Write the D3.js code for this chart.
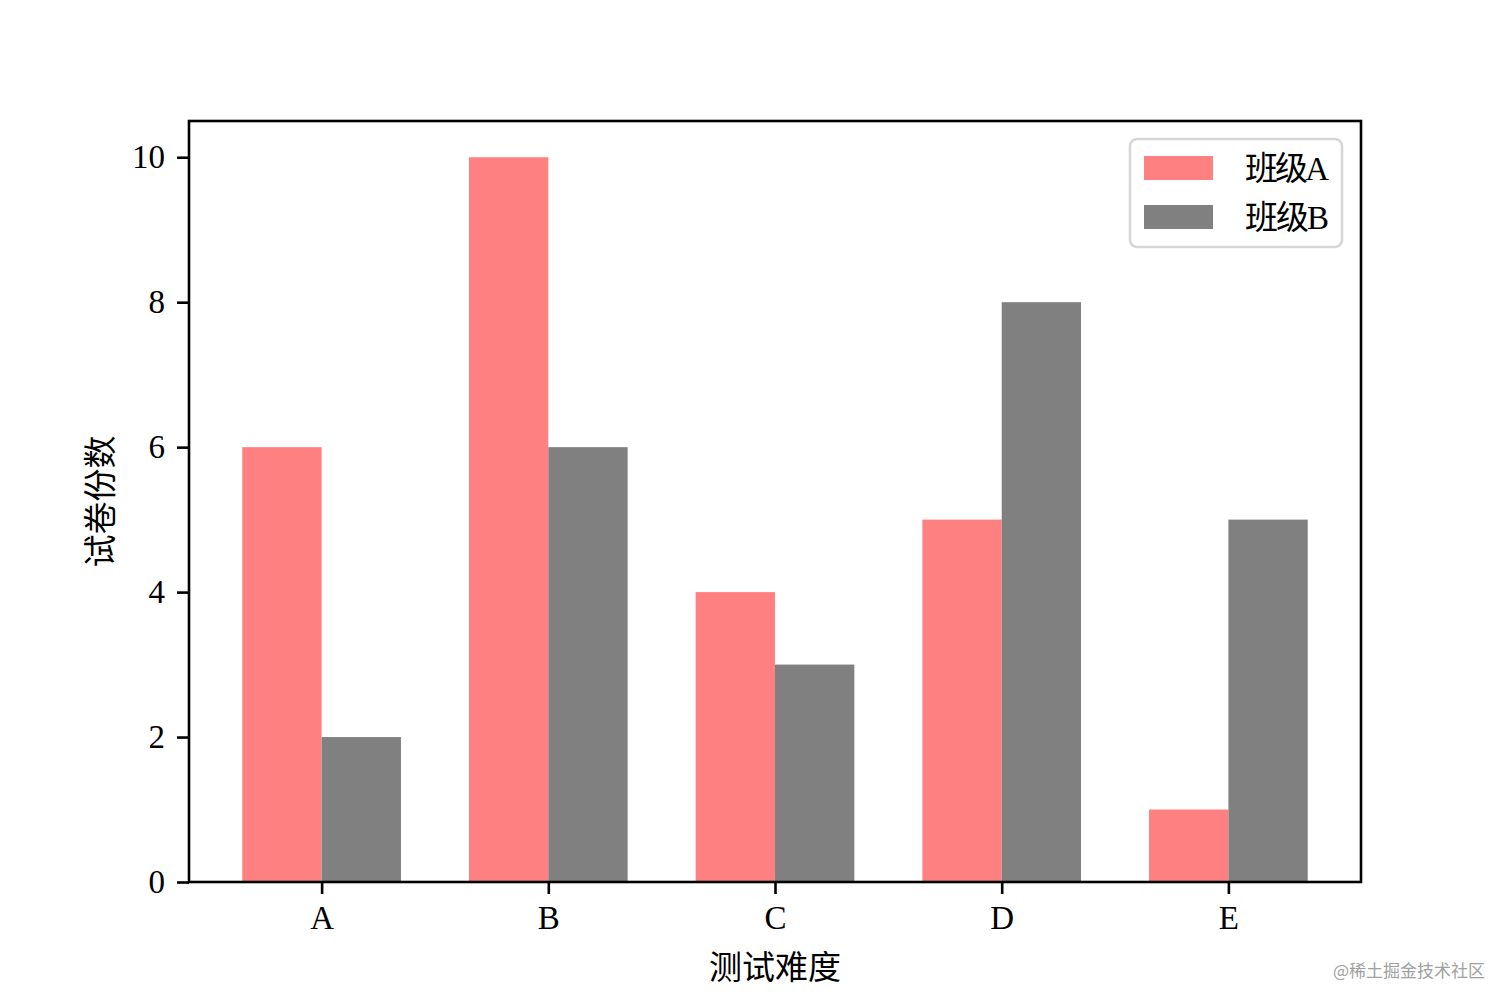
<!DOCTYPE html>
<html>
<head>
<meta charset="utf-8">
<script src="https://cdn.jsdelivr.net/npm/d3@7"></script>
<style>
  body { margin: 0; background: #fff; }
  svg text { font-family: "Liberation Serif", "Noto Sans CJK SC", serif; }
</style>
</head>
<body>
<div id="chart"></div>
<script>
var categories = ['A', 'B', 'C', 'D', 'E'];
var classA = [6, 10, 4, 5, 1];
var classB = [2, 6, 3, 8, 5];
var seriesNames = ['班级A', '班级B'];
var seriesColors = ['#ff8080', '#808080'];
var yTicks = [0, 2, 4, 6, 8, 10];

var width = 1512, height = 1008,
    plotL = 189, plotR = 1361, plotT = 121, plotB = 882,
    barW = 0.35;

var svg = d3.select('#chart').append('svg')
    .attr('width', width).attr('height', height);

var x = d3.scaleLinear().domain([-0.585, 4.585]).range([plotL, plotR]);
var y = d3.scaleLinear().domain([0, 10.5]).range([plotB, plotT]);

var series = [classA, classB];
series.forEach(function (vals, s) {
    svg.append('g').selectAll('rect')
        .data(vals)
        .enter().append('rect')
        .attr('x', function (d, i) { return x(i + (s === 0 ? -barW : 0)); })
        .attr('width', x(barW) - x(0))
        .attr('y', function (d) { return y(d); })
        .attr('height', function (d) { return y(0) - y(d); })
        .attr('fill', seriesColors[s]);
});

// axes
var xAxis = svg.append('g')
    .attr('transform', 'translate(0,' + plotB + ')')
    .call(d3.axisBottom(x).tickValues(d3.range(categories.length))
        .tickFormat(function (d) { return categories[d]; })
        .tickSize(12).tickPadding(12));
var yAxis = svg.append('g')
    .attr('transform', 'translate(' + plotL + ',0)')
    .call(d3.axisLeft(y).tickValues(yTicks).tickSize(12).tickPadding(12));

[xAxis, yAxis].forEach(function (g) {
    g.select('.domain').remove();
    g.selectAll('line').attr('stroke', '#000').attr('stroke-width', 2.6);
    g.selectAll('text').attr('fill', '#000')
        .style('font-size', '33px')
        .style('font-family', '"Liberation Serif", serif');
});

// frame
svg.append('rect')
    .attr('x', plotL).attr('y', plotT)
    .attr('width', plotR - plotL).attr('height', plotB - plotT)
    .attr('fill', 'none').attr('stroke', '#000').attr('stroke-width', 2.6);

// axis titles
svg.append('text')
    .attr('x', (plotL + plotR) / 2).attr('y', 979)
    .attr('text-anchor', 'middle')
    .style('font-size', '33px')
    .text('测试难度');
svg.append('text')
    .attr('transform', 'translate(112,' + ((plotT + plotB) / 2) + ') rotate(-90)')
    .attr('text-anchor', 'middle')
    .style('font-size', '33px')
    .text('试卷份数');

// legend
var legend = svg.append('g');
legend.append('rect')
    .attr('x', 1130).attr('y', 139).attr('width', 212).attr('height', 108)
    .attr('rx', 7)
    .attr('fill', '#fff').attr('fill-opacity', 0.8)
    .attr('stroke', '#d6d6d6').attr('stroke-width', 2.6);
seriesNames.forEach(function (name, i) {
    legend.append('rect')
        .attr('x', 1144).attr('y', 156 + i * 49)
        .attr('width', 69).attr('height', 24)
        .attr('fill', seriesColors[i]);
    legend.append('text')
        .attr('x', 1245).attr('y', 168 + i * 49)
        .attr('dy', '0.36em')
        .attr('textLength', 84)
        .style('font-size', '33px')
        .text(name);
});

// watermark
svg.append('text')
    .attr('x', 1485).attr('y', 977)
    .attr('text-anchor', 'end')
    .attr('fill', '#a0a0a0')
    .style('font-size', '17px')
    .style('font-family', '"Noto Sans CJK SC", sans-serif')
    .text('@稀土掘金技术社区');
</script>
</body>
</html>
